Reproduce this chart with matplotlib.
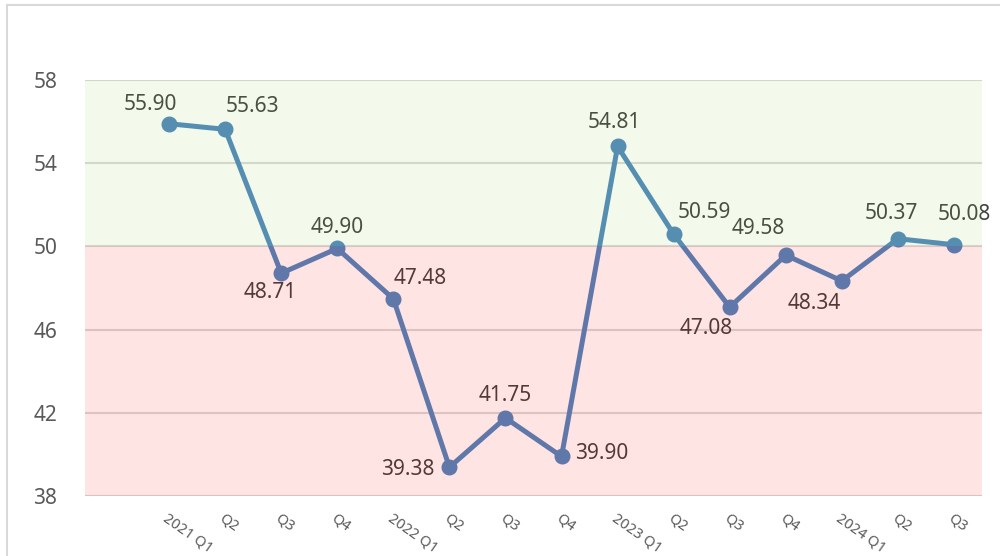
import matplotlib.pyplot as plt
from matplotlib.lines import Line2D

# quarterly values, first slot of the category axis is left empty
quarters = ['', '2021 Q1', 'Q2', 'Q3', 'Q4', '2022 Q1', 'Q2', 'Q3', 'Q4',
            '2023 Q1', 'Q2', 'Q3', 'Q4', '2024 Q1', 'Q2', 'Q3']
values = [55.90, 55.63, 48.71, 49.90, 47.48, 39.38, 41.75, 39.90,
          54.81, 50.59, 47.08, 49.58, 48.34, 50.37, 50.08]
y_ticks = [38, 42, 46, 50, 54, 58]
threshold = 50

# label offsets in pixels (dx, dy), picked to sit like the original
label_offsets = [(-19, 19), (27, 23), (-11, -19), (0, 21), (27, 20), (-42, -2),
                 (0, 22), (40, 3), (-3, 24), (31, 22), (-24, -21), (-28, 27),
                 (-28, -23), (-7, 25), (10, 30)]

plt.rcParams['font.family'] = ['Noto Sans', 'DejaVu Sans']

fig = plt.figure(figsize=(10, 5.56), dpi=100)
ax = fig.add_axes([0.085, 0.108, 0.897, 0.748])

x = list(range(1, len(values) + 1))
ax.plot(x, values, color='#4E86BE', lw=3.6, marker='o', ms=10.5,
        solid_joinstyle='round', zorder=3)

for xi, v, (dx, dy) in zip(x, values, label_offsets):
    ax.annotate(f'{v:.2f}', (xi, v), xytext=(dx, dy), textcoords='offset pixels',
                ha='center', va='center', fontsize=15, color='#404040', zorder=4)

# translucent bands drawn over everything, as in the source chart
ax.axhspan(threshold, y_ticks[-1], color='#92D050', alpha=0.11, lw=0, zorder=10)
ax.axhspan(y_ticks[0], threshold, color='#FF0000', alpha=0.105, lw=0, zorder=10)

ax.set_xlim(-0.5, len(quarters) - 0.5)
ax.set_ylim(y_ticks[0], y_ticks[-1])
ax.set_yticks(y_ticks)
ax.yaxis.grid(True, color='#D9D9D9', lw=1.5)
ax.set_axisbelow(True)
for s in ax.spines.values():
    s.set_visible(False)

ax.set_xticks(range(len(quarters)))
ax.set_xticklabels(quarters, rotation=-35, ha='left', va='top',
                   rotation_mode='anchor', fontsize=10.5, color='#595959')
ax.tick_params(axis='x', length=0, pad=11)
ax.tick_params(axis='y', length=0, pad=20, labelsize=15, labelcolor='#595959')

# chart frame (only top and left edges fall inside the image)
fig.add_artist(Line2D([0.007, 1.0], [0.991, 0.991], color='#D9D9D9', lw=1.5))
fig.add_artist(Line2D([0.007, 0.007], [0.0, 0.991], color='#D9D9D9', lw=1.5))

fig.savefig('out.png', dpi=100)
